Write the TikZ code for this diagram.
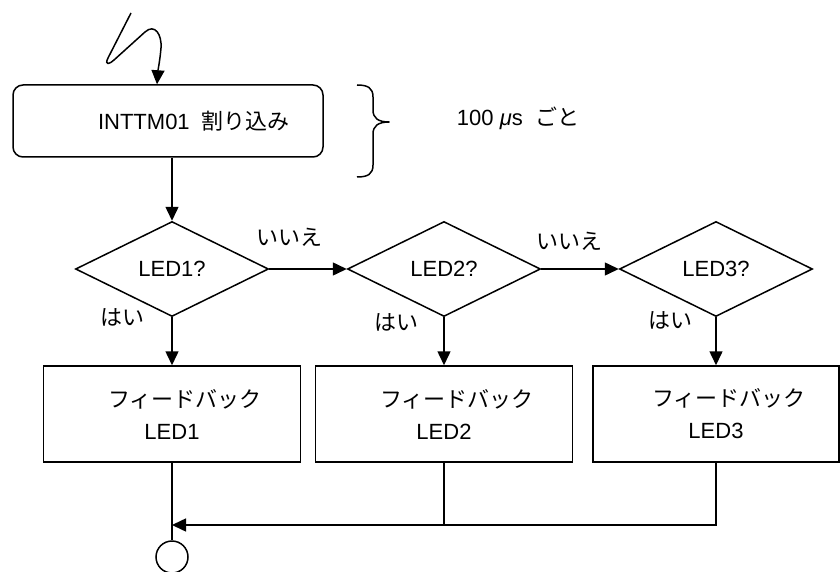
\documentclass[tikz,border=0pt]{standalone}
\usepackage{fontspec}
\setmainfont{Liberation Sans}
\newfontfamily\jpfont{Noto Sans CJK JP}
\usetikzlibrary{arrows.meta,positioning,shapes.geometric}
\tikzset{
  flow/.style={line width=1.5pt},
  arr/.style={flow,-{Triangle[length=14pt,width=13pt]}},
  startbox/.style={draw,flow,rounded corners=10pt,minimum width=310pt,minimum height=72pt,align=center},
  fbbox/.style={draw,flow,minimum height=96pt,align=center},
  decide/.style={draw,flow,diamond,minimum width=193pt,minimum height=95pt,inner sep=1pt},
  lbl/.style={inner sep=0pt,font=\fontsize{22}{26}\selectfont\jpfont}
}
\begin{document}
\begin{tikzpicture}[x=1pt,y=-1pt,font=\fontsize{22}{32}\selectfont]
  \useasboundingbox (0,0) rectangle (840,572);
  \node[startbox] (inttm) at (168,121) {\hspace*{52pt}INTTM01\ \ {\jpfont 割り込み}};
  \node (every) at (518,118) {100 {\itshape μ}s\ \ {\jpfont ごと}};
  \draw[flow,line join=round] (357,85) .. controls (368,85) and (373,88) .. (373,97)
    -- (373,110) .. controls (373,118) and (378,122) .. (389,122)
    .. controls (378,122) and (373,126) .. (373,134)
    -- (373,165) .. controls (373,174) and (368,177) .. (357,177);
  \node[decide] (d1) at (172,269) {LED1?};
  \node[decide] (d2) at (444,269) {LED2?};
  \node[decide] (d3) at (716,269) {LED3?};
  \node[fbbox,minimum width=257pt] (b1) at (172,414) {\hspace*{26pt}{\jpfont フィードバック}\\LED1};
  \node[fbbox,minimum width=257pt] (b2) at (444,414) {\hspace*{26pt}{\jpfont フィードバック}\\LED2};
  \node[fbbox,minimum width=246pt] (b3) at (716,414) {\hspace*{26pt}{\jpfont フィードバック}\\LED3};
  \node[draw,flow,circle,minimum size=32pt,inner sep=0pt] (endc) at (172,557) {};
  \coordinate (sqa) at (131,13);
  \coordinate (jn) at (172,525);
  \draw[arr,line join=round] (sqa) -- (108,58) .. controls (104,66) and (110,64) .. (114,60)
    -- (145,32) .. controls (155,23) and (162,35) .. (161,48)
    .. controls (160,60) and (158,70) .. ([xshift=-11pt]inttm.north);
  \draw[arr] (inttm.south -| d1.north) -- (d1.north);
  \draw[arr] (d1.east) -- (d2.west) node[lbl,pos=0.26,above=22pt] {いいえ};
  \draw[arr] (d2.east) -- (d3.west) node[lbl,pos=0.37,above=18pt] {いいえ};
  \draw[arr] (d1.south) -- (b1.north) node[lbl,at start,left=27pt] {はい};
  \draw[arr] (d2.south) -- (b2.north) node[lbl,at start,left=25pt,yshift=-5pt] {はい};
  \draw[arr] (d3.south) -- (b3.north) node[lbl,at start,left=23pt,yshift=-3pt] {はい};
  \draw[flow] (b3.south) |- (b2.south |- jn);
  \draw[arr] (b2.south) |- (jn);
  \draw[flow] (b1.south) -- (endc.north);
\end{tikzpicture}
\end{document}
